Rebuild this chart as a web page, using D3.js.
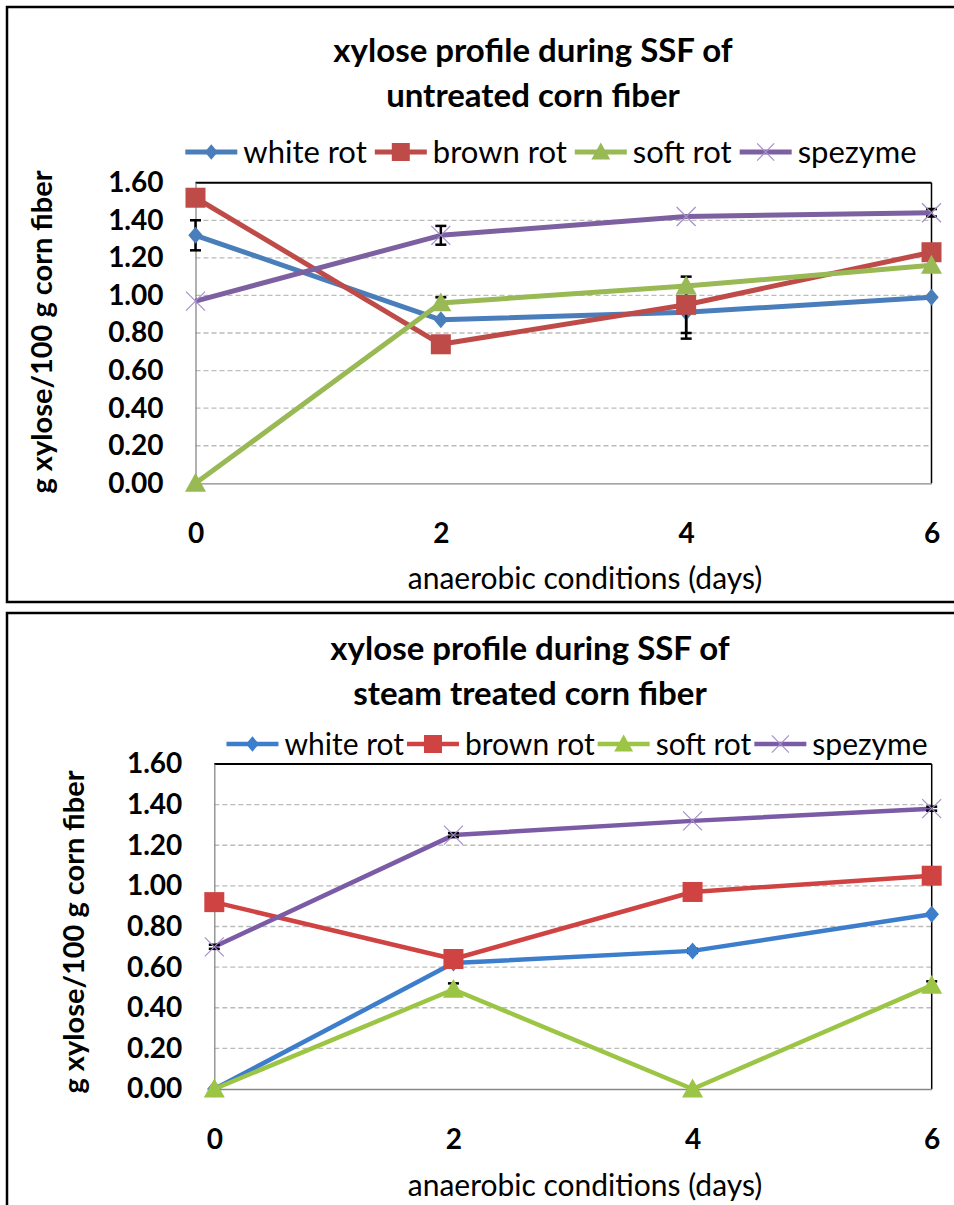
<!DOCTYPE html>
<html><head><meta charset="utf-8">
<script src="https://cdn.jsdelivr.net/npm/d3@7"></script>
<style>
html,body{margin:0;padding:0;background:#fff;}
svg{display:block;font-family:Lato,"Open Sans",sans-serif;}
</style></head>
<body><svg id="chart" width="954" height="1205"></svg>
<script>
// ---- data ----
const days = [0, 2, 4, 6];
const seriesNames = ["white rot", "brown rot", "soft rot", "spezyme"];
const yTicks = [0, 0.2, 0.4, 0.6, 0.8, 1.0, 1.2, 1.4, 1.6];

const untreatedWhite = [1.32, 0.87, 0.91, 0.99];
const untreatedBrown = [1.52, 0.74, 0.95, 1.23];
const untreatedSoft  = [0.00, 0.96, 1.05, 1.16];
const untreatedSpez  = [0.97, 1.32, 1.42, 1.44];
const untreatedWhiteErr = [0.08, 0, 0.14, 0];
const untreatedBrownErr = [0, 0, 0.15, 0];
const untreatedSoftErr  = [0, 0.03, 0, 0];
const untreatedSpezErr  = [0, 0.05, 0, 0.02];

const steamWhite = [0.00, 0.62, 0.68, 0.86];
const steamBrown = [0.92, 0.64, 0.97, 1.05];
const steamSoft  = [0.00, 0.49, 0.00, 0.51];
const steamSpez  = [0.70, 1.25, 1.32, 1.38];
const steamWhiteErr = [0, 0, 0.01, 0];
const steamBrownErr = [0, 0, 0, 0];
const steamSoftErr  = [0, 0.03, 0, 0.02];
const steamSpezErr  = [0.01, 0.01, 0, 0.01];

const titleTop = ["xylose profile during SSF of", "untreated corn fiber"];
const titleBottom = ["xylose profile during SSF of", "steam treated corn fiber"];
const xTitle = "anaerobic conditions (days)";
const yTitle = "g xylose/100 g corn fiber";

const svg = d3.select("#chart");

function drawPanel(o) {
  const g = svg.append("g");
  g.append("rect").attr("x", o.frame[0]).attr("y", o.frame[1])
    .attr("width", o.frame[2]).attr("height", o.frame[3])
    .attr("fill", "none").attr("stroke", "#000").attr("stroke-width", 2.5);

  const x = d3.scaleLinear().domain([0, 6]).range([o.plot.x0, o.plot.x1]);
  const y = d3.scaleLinear().domain([0, 1.6]).range([o.plot.y0, o.plot.y1]);

  o.title.forEach((t, i) => {
    g.append("text").attr("x", o.titleX).attr("y", o.titleY + i * o.titleGap)
      .attr("text-anchor", "middle").attr("font-size", o.titleSize)
      .attr("font-weight", "bold").attr("fill", "#000").text(t);
  });

  g.append("g").selectAll("line").data(yTicks.filter(v => v > 0 && v < 1.6)).join("line")
    .attr("x1", x(0)).attr("x2", x(6)).attr("y1", d => y(d)).attr("y2", d => y(d))
    .attr("stroke", "#bcbcbc").attr("stroke-width", 1.3).attr("stroke-dasharray", "5,3");

  g.append("line").attr("x1", x(0)).attr("x2", x(6)).attr("y1", y(1.6)).attr("y2", y(1.6))
    .attr("stroke", "#000").attr("stroke-width", 2);
  g.append("line").attr("x1", x(6)).attr("x2", x(6)).attr("y1", y(1.6)).attr("y2", y(0))
    .attr("stroke", "#000").attr("stroke-width", 1.5);

  const yAxis = d3.axisLeft(y).tickValues(yTicks).tickFormat(d3.format(".2f")).tickSize(0).tickPadding(o.yTickPad);
  const ya = g.append("g").attr("transform", `translate(${x(0)},0)`).call(yAxis);
  ya.select(".domain").attr("stroke", "#888").attr("stroke-width", 1.3);
  ya.selectAll("text").attr("font-size", o.tickSize).attr("font-weight", "bold")
    .attr("font-family", "Lato").attr("fill", "#000");

  const xAxis = d3.axisBottom(x).tickValues(days).tickFormat(d3.format("d")).tickSize(0).tickPadding(o.xTickPad);
  const xa = g.append("g").attr("transform", `translate(0,${y(0)})`).call(xAxis);
  xa.select(".domain").attr("stroke", "#888").attr("stroke-width", 1.3);
  xa.selectAll("text").attr("font-size", o.tickSize).attr("font-weight", "bold")
    .attr("font-family", "Lato").attr("fill", "#000");

  g.append("text").attr("x", o.xTitleX).attr("y", o.xTitleY).attr("text-anchor", "middle")
    .attr("font-size", o.xTitleSize).attr("fill", "#000").text(xTitle);
  g.append("text").attr("transform", `translate(${o.yTitleX},${o.yTitleY}) rotate(-90)`)
    .attr("text-anchor", "middle").attr("font-size", o.yTitleSize).attr("font-weight", "bold")
    .attr("fill", "#000").text(yTitle);

  const line = d3.line().x((d, i) => x(days[i])).y(d => y(d));

  o.series.forEach((s, si) => {
    const sg = g.append("g");
    sg.append("path").attr("d", line(s.values)).attr("fill", "none")
      .attr("stroke", o.colors[si]).attr("stroke-width", o.lineWidth).attr("stroke-linejoin", "round");
    s.values.forEach((v, i) => {
      const e = s.err[i];
      if (!e) return;
      const cx = x(days[i]);
      sg.append("line").attr("x1", cx).attr("x2", cx).attr("y1", y(v - e)).attr("y2", y(v + e))
        .attr("stroke", "#000").attr("stroke-width", 2.5);
      [v - e, v + e].forEach(b => sg.append("line").attr("x1", cx - 5.5).attr("x2", cx + 5.5)
        .attr("y1", y(b)).attr("y2", y(b)).attr("stroke", "#000").attr("stroke-width", 2.5));
    });
    s.values.forEach((v, i) => {
      drawMarker(sg, si, x(days[i]), y(v), o.colors[si], o.markerScale);
    });
  });

  const lg = g.append("g");
  const items = [];
  seriesNames.forEach((name, si) => {
    const it = lg.append("g");
    const lineLen = o.legendLine;
    it.append("line").attr("x1", 0).attr("x2", lineLen).attr("y1", 0).attr("y2", 0)
      .attr("stroke", o.colors[si]).attr("stroke-width", o.lineWidth);
    drawMarker(it, si, lineLen / 2, 0, o.colors[si], o.markerScale * 0.9);
    const t = it.append("text").attr("x", lineLen + 6).attr("y", 0).attr("dy", "0.35em")
      .attr("font-size", o.legendSize).attr("fill", "#000").text(name);
    const w = lineLen + 6 + t.node().getComputedTextLength();
    items.push({ it, w });
  });
  const gap = o.legendGap;
  const total = d3.sum(items, d => d.w) + gap * (items.length - 1);
  let px = o.legendCX - total / 2;
  items.forEach(d => { d.it.attr("transform", `translate(${px},${o.legendY})`); px += d.w + gap; });
}

function drawMarker(g, si, cx, cy, color, k) {
  if (si === 0) {
    const r = 8.5 * k;
    g.append("path").attr("d", `M${cx},${cy - r}L${cx + r * 0.85},${cy}L${cx},${cy + r}L${cx - r * 0.85},${cy}Z`)
      .attr("fill", color);
  } else if (si === 1) {
    const h = 10 * k;
    g.append("rect").attr("x", cx - h).attr("y", cy - h).attr("width", 2 * h).attr("height", 2 * h).attr("fill", color);
  } else if (si === 2) {
    const h = 10.5 * k;
    g.append("path").attr("d", `M${cx},${cy - h}L${cx + h},${cy + h * 0.8}L${cx - h},${cy + h * 0.8}Z`).attr("fill", color);
  } else {
    const h = 9.5 * k;
    g.append("path").attr("d", `M${cx - h},${cy - h}L${cx + h},${cy + h}M${cx - h},${cy + h}L${cx + h},${cy - h}`)
      .attr("stroke", "#a58fcb").attr("stroke-width", 1.2).attr("fill", "none");
  }
}

drawPanel({
  frame: [7, 7, 960, 595],
  plot: { x0: 195.5, x1: 931.5, y0: 483.3, y1: 182.7 },
  title: titleTop, titleX: 533, titleY: 62, titleGap: 45, titleSize: 33,
  legendY: 152, legendCX: 551, legendLine: 52, legendGap: 8, legendSize: 31,
  tickSize: 28, yTickPad: 32, xTickPad: 40,
  xTitleX: 585, xTitleY: 589, xTitleSize: 30,
  yTitleX: 52, yTitleY: 332, yTitleSize: 29,
  colors: ["#4a7ebb", "#be4b48", "#98b954", "#7d60a0"],
  lineWidth: 5, markerScale: 1,
  series: [
    { values: untreatedWhite, err: untreatedWhiteErr },
    { values: untreatedBrown, err: untreatedBrownErr },
    { values: untreatedSoft, err: untreatedSoftErr },
    { values: untreatedSpez, err: untreatedSpezErr }
  ]
});

drawPanel({
  frame: [7, 613, 960, 620],
  plot: { x0: 214.3, x1: 931.7, y0: 1089, y1: 764 },
  title: titleBottom, titleX: 530, titleY: 660, titleGap: 45, titleSize: 33,
  legendY: 744, legendCX: 577, legendLine: 52, legendGap: 3, legendSize: 30,
  tickSize: 28, yTickPad: 32, xTickPad: 40,
  xTitleX: 585, xTitleY: 1196, xTitleSize: 30,
  yTitleX: 84, yTitleY: 932, yTitleSize: 29,
  colors: ["#3c7dcc", "#d04343", "#9cc545", "#7b5aa6"],
  lineWidth: 4.5, markerScale: 1,
  series: [
    { values: steamWhite, err: steamWhiteErr },
    { values: steamBrown, err: steamBrownErr },
    { values: steamSoft, err: steamSoftErr },
    { values: steamSpez, err: steamSpezErr }
  ]
});
</script></body></html>
